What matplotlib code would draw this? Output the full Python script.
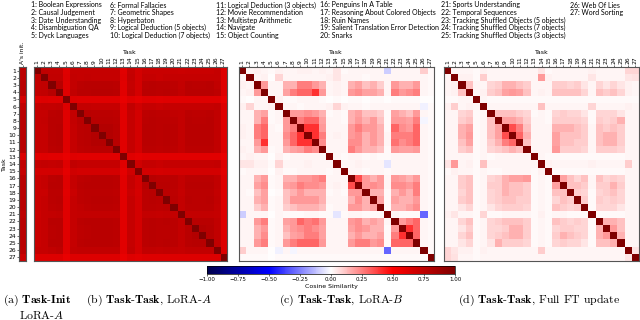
import numpy as np
import matplotlib
matplotlib.use('Agg')
import matplotlib.pyplot as plt

plt.rcParams['mathtext.fontset'] = 'cm'

tasks = ['Boolean Expressions', 'Causal Judgement', 'Date Understanding', 'Disambiguation QA',
         'Dyck Languages', 'Formal Fallacies', 'Geometric Shapes', 'Hyperbaton',
         'Logical Deduction (5 objects)', 'Logical Deduction (7 objects)',
         'Logical Deduction (3 objects)', 'Movie Recommendation', 'Multistep Arithmetic',
         'Navigate', 'Object Counting', 'Penguins In A Table',
         'Reasoning About Colored Objects', 'Ruin Names', 'Salient Translation Error Detection',
         'Snarks', 'Sports Understanding', 'Temporal Sequences',
         'Tracking Shuffled Objects (5 objects)', 'Tracking Shuffled Objects (7 objects)',
         'Tracking Shuffled Objects (3 objects)', 'Web Of Lies', 'Word Sorting']

# (a) similarity of each task's A to its init
init_sim = [0.76, 0.76, 0.77, 0.77, 0.66, 0.74, 0.77, 0.77, 0.77, 0.77, 0.77, 0.77, 0.64, 0.74,
            0.72, 0.77, 0.77, 0.77, 0.77, 0.77, 0.75, 0.77, 0.77, 0.77, 0.77, 0.76, 0.70]

# lower triangles (row i holds columns 1..i-1), diagonal is 1
lora_a = [
    [0.74],
    [0.73, 0.74],
    [0.73, 0.74, 0.78],
    [0.62, 0.63, 0.62, 0.62],
    [0.72, 0.73, 0.73, 0.74, 0.63],
    [0.72, 0.72, 0.76, 0.77, 0.62, 0.73],
    [0.72, 0.73, 0.77, 0.77, 0.62, 0.73, 0.77],
    [0.72, 0.72, 0.77, 0.78, 0.62, 0.72, 0.76, 0.77],
    [0.72, 0.72, 0.77, 0.78, 0.62, 0.72, 0.76, 0.77, 0.79],
    [0.72, 0.72, 0.77, 0.78, 0.62, 0.72, 0.76, 0.77, 0.79, 0.79],
    [0.72, 0.72, 0.76, 0.77, 0.62, 0.72, 0.75, 0.76, 0.77, 0.77, 0.77],
    [0.61, 0.62, 0.61, 0.61, 0.58, 0.62, 0.61, 0.61, 0.61, 0.61, 0.61, 0.61],
    [0.72, 0.73, 0.72, 0.73, 0.62, 0.74, 0.72, 0.72, 0.72, 0.72, 0.72, 0.72, 0.62],
    [0.67, 0.67, 0.67, 0.67, 0.60, 0.68, 0.67, 0.67, 0.67, 0.67, 0.67, 0.67, 0.60, 0.68],
    [0.71, 0.72, 0.76, 0.77, 0.62, 0.72, 0.75, 0.76, 0.77, 0.77, 0.77, 0.76, 0.61, 0.72, 0.67],
    [0.71, 0.72, 0.77, 0.77, 0.62, 0.72, 0.76, 0.77, 0.77, 0.77, 0.77, 0.76, 0.61, 0.72, 0.67, 0.78],
    [0.71, 0.71, 0.76, 0.76, 0.61, 0.71, 0.75, 0.76, 0.76, 0.76, 0.76, 0.75, 0.61, 0.71, 0.66, 0.76,
     0.77],
    [0.71, 0.72, 0.76, 0.77, 0.62, 0.72, 0.75, 0.76, 0.77, 0.77, 0.77, 0.76, 0.61, 0.72, 0.67, 0.76,
     0.77, 0.76],
    [0.71, 0.72, 0.75, 0.76, 0.62, 0.72, 0.74, 0.75, 0.76, 0.76, 0.76, 0.75, 0.61, 0.72, 0.67, 0.76,
     0.76, 0.75, 0.76],
    [0.70, 0.72, 0.73, 0.74, 0.62, 0.72, 0.73, 0.73, 0.73, 0.73, 0.73, 0.73, 0.61, 0.72, 0.67, 0.73,
     0.73, 0.72, 0.73, 0.73],
    [0.71, 0.72, 0.77, 0.77, 0.62, 0.72, 0.76, 0.77, 0.77, 0.77, 0.77, 0.76, 0.61, 0.72, 0.67, 0.76,
     0.77, 0.76, 0.77, 0.76, 0.73],
    [0.71, 0.72, 0.76, 0.77, 0.62, 0.72, 0.75, 0.76, 0.77, 0.77, 0.77, 0.76, 0.61, 0.72, 0.67, 0.76,
     0.77, 0.76, 0.76, 0.76, 0.73, 0.77],
    [0.71, 0.72, 0.76, 0.77, 0.62, 0.72, 0.75, 0.76, 0.77, 0.77, 0.77, 0.76, 0.61, 0.72, 0.67, 0.76,
     0.77, 0.76, 0.76, 0.76, 0.73, 0.77, 0.79],
    [0.71, 0.72, 0.77, 0.77, 0.62, 0.72, 0.76, 0.77, 0.77, 0.77, 0.77, 0.76, 0.61, 0.72, 0.67, 0.76,
     0.77, 0.76, 0.77, 0.76, 0.73, 0.77, 0.78, 0.78],
    [0.72, 0.72, 0.74, 0.75, 0.62, 0.73, 0.74, 0.74, 0.74, 0.74, 0.74, 0.74, 0.61, 0.73, 0.67, 0.74,
     0.74, 0.73, 0.74, 0.73, 0.72, 0.74, 0.74, 0.74, 0.74],
    [0.63, 0.63, 0.63, 0.63, 0.58, 0.63, 0.63, 0.63, 0.63, 0.63, 0.63, 0.63, 0.58, 0.63, 0.61, 0.63,
     0.63, 0.63, 0.63, 0.63, 0.63, 0.63, 0.63, 0.63, 0.63, 0.63],
]

lora_b = [
    [0.02],
    [0.03, 0.02],
    [0.02, 0.03, 0.20],
    [0.01, 0.00, 0.02, 0.02],
    [0.03, 0.08, 0.02, 0.02, 0.03],
    [0.02, 0.02, 0.15, 0.18, 0.01, 0.02],
    [0.02, 0.02, 0.15, 0.25, 0.01, 0.02, 0.20],
    [0.03, 0.02, 0.25, 0.30, 0.02, 0.01, 0.20, 0.25],
    [0.03, 0.02, 0.25, 0.30, 0.02, 0.02, 0.22, 0.30, 0.40],
    [0.02, 0.02, 0.20, 0.40, 0.02, 0.02, 0.20, 0.30, 0.40, 0.40],
    [0.03, 0.02, 0.15, 0.20, 0.01, 0.02, 0.15, 0.18, 0.20, 0.25, 0.22],
    [0.02, 0.03, 0.02, 0.02, 0.00, 0.03, 0.01, 0.02, 0.02, 0.02, 0.02, 0.02],
    [0.05, 0.05, 0.03, 0.03, 0.01, 0.08, 0.02, 0.02, 0.02, 0.03, 0.02, 0.02, 0.02],
    [0.01, 0.02, 0.02, 0.02, 0.00, 0.03, 0.01, 0.01, 0.02, 0.02, 0.02, 0.02, 0.01, 0.02],
    [0.02, 0.02, 0.15, 0.20, 0.01, 0.02, 0.15, 0.15, 0.20, 0.20, 0.22, 0.25, 0.02, 0.02, 0.02],
    [0.02, 0.02, 0.18, 0.22, 0.01, 0.02, 0.18, 0.20, 0.25, 0.22, 0.22, 0.20, 0.02, 0.03, 0.02, 0.35],
    [0.02, 0.01, 0.12, 0.18, 0.00, 0.01, 0.12, 0.15, 0.20, 0.15, 0.15, 0.15, 0.01, 0.02, 0.01, 0.20,
     0.20],
    [0.02, 0.02, 0.15, 0.18, 0.01, 0.02, 0.12, 0.20, 0.20, 0.20, 0.20, 0.15, 0.02, 0.02, 0.02, 0.15,
     0.22, 0.15],
    [0.02, 0.02, 0.10, 0.15, 0.01, 0.02, 0.10, 0.12, 0.15, 0.15, 0.15, 0.12, 0.01, 0.02, 0.02, 0.20,
     0.20, 0.15, 0.18],
    [-0.10, 0.02, 0.02, 0.02, 0.00, 0.02, 0.01, 0.01, 0.01, 0.02, 0.02, 0.01, 0.01, -0.05, 0.01, 0.02,
     0.02, 0.01, 0.01, 0.01],
    [0.02, 0.02, 0.20, 0.25, 0.01, 0.02, 0.18, 0.20, 0.30, 0.25, 0.28, 0.20, 0.02, 0.02, 0.02, 0.20,
     0.22, 0.15, 0.18, 0.15, 0.02],
    [0.02, 0.02, 0.15, 0.20, 0.01, 0.02, 0.15, 0.20, 0.22, 0.25, 0.22, 0.18, 0.02, 0.02, 0.02, 0.18,
     0.22, 0.20, 0.15, 0.15, 0.01, 0.20],
    [0.02, 0.02, 0.15, 0.22, 0.01, 0.02, 0.12, 0.18, 0.20, 0.25, 0.25, 0.18, 0.02, 0.02, 0.02, 0.15,
     0.20, 0.15, 0.15, 0.18, 0.01, 0.25, 0.40],
    [0.02, 0.02, 0.20, 0.25, 0.01, 0.02, 0.20, 0.25, 0.30, 0.30, 0.30, 0.20, 0.02, 0.02, 0.02, 0.20,
     0.25, 0.25, 0.20, 0.22, 0.01, 0.30, 0.30, 0.30],
    [0.10, 0.02, 0.02, 0.02, 0.00, -0.03, 0.02, -0.02, 0.02, 0.02, 0.02, 0.02, 0.02, 0.02, 0.02, 0.02,
     0.02, 0.02, 0.02, 0.02, -0.30, 0.02, 0.02, 0.02, 0.02],
    [0.01, 0.01, 0.01, 0.01, 0.00, 0.01, 0.01, 0.01, 0.01, 0.01, 0.01, 0.01, 0.01, 0.01, 0.01, 0.01,
     0.01, 0.01, 0.01, 0.01, 0.01, 0.01, 0.01, 0.01, 0.01, 0.01],
]

full_ft = [
    [0.02],
    [0.02, 0.03],
    [0.02, 0.03, 0.12],
    [0.01, 0.01, 0.02, 0.02],
    [0.03, 0.10, 0.02, 0.03, 0.02],
    [0.02, 0.02, 0.08, 0.10, 0.01, 0.02],
    [0.02, 0.02, 0.10, 0.12, 0.01, 0.02, 0.12],
    [0.02, 0.02, 0.15, 0.18, 0.01, 0.02, 0.12, 0.18],
    [0.02, 0.02, 0.15, 0.20, 0.01, 0.02, 0.12, 0.18, 0.35],
    [0.02, 0.02, 0.12, 0.18, 0.01, 0.02, 0.10, 0.15, 0.25, 0.30],
    [0.02, 0.02, 0.10, 0.12, 0.01, 0.02, 0.08, 0.10, 0.12, 0.15, 0.12],
    [0.02, 0.02, 0.02, 0.02, 0.01, 0.02, 0.01, 0.02, 0.02, 0.02, 0.02, 0.02],
    [0.05, 0.20, 0.02, 0.03, 0.01, 0.12, 0.02, 0.02, 0.02, 0.02, 0.02, 0.02, 0.02],
    [0.01, 0.03, 0.02, 0.02, 0.01, 0.02, 0.01, 0.01, 0.02, 0.02, 0.02, 0.02, 0.01, 0.03],
    [0.02, 0.02, 0.10, 0.12, 0.01, 0.02, 0.08, 0.10, 0.15, 0.18, 0.18, 0.20, 0.01, 0.02, 0.01],
    [0.02, 0.02, 0.10, 0.12, 0.01, 0.02, 0.10, 0.10, 0.15, 0.12, 0.12, 0.10, 0.01, 0.02, 0.01, 0.18],
    [0.02, 0.02, 0.08, 0.12, 0.01, 0.02, 0.08, 0.10, 0.15, 0.12, 0.12, 0.10, 0.01, 0.02, 0.01, 0.12,
     0.12],
    [0.02, 0.02, 0.10, 0.12, 0.01, 0.02, 0.08, 0.10, 0.12, 0.12, 0.10, 0.10, 0.01, 0.02, 0.01, 0.08,
     0.12, 0.10],
    [0.02, 0.02, 0.05, 0.08, 0.01, 0.02, 0.05, 0.08, 0.10, 0.10, 0.10, 0.08, 0.01, 0.02, 0.01, 0.12,
     0.10, 0.08, 0.10],
    [0.03, 0.05, 0.02, 0.02, 0.01, 0.08, 0.01, 0.01, 0.02, 0.02, 0.02, 0.02, 0.01, 0.03, 0.01, 0.02,
     0.02, 0.01, 0.01, 0.01],
    [0.02, 0.02, 0.08, 0.12, 0.01, 0.02, 0.08, 0.10, 0.12, 0.12, 0.12, 0.10, 0.01, 0.02, 0.01, 0.12,
     0.10, 0.08, 0.10, 0.08, 0.01],
    [0.02, 0.02, 0.05, 0.10, 0.01, 0.02, 0.08, 0.08, 0.10, 0.15, 0.15, 0.10, 0.01, 0.02, 0.01, 0.08,
     0.10, 0.10, 0.08, 0.08, 0.01, 0.15],
    [0.02, 0.02, 0.08, 0.12, 0.01, 0.02, 0.08, 0.10, 0.12, 0.15, 0.15, 0.10, 0.01, 0.02, 0.01, 0.10,
     0.15, 0.12, 0.10, 0.08, 0.01, 0.15, 0.20],
    [0.02, 0.02, 0.05, 0.08, 0.01, 0.02, 0.05, 0.15, 0.10, 0.10, 0.10, 0.08, 0.01, 0.02, 0.01, 0.08,
     0.10, 0.08, 0.08, 0.05, 0.01, 0.12, 0.12, 0.15],
    [0.08, 0.05, 0.03, 0.03, 0.01, 0.03, 0.02, 0.02, 0.02, 0.02, 0.02, 0.02, 0.02, 0.10, 0.02, 0.02,
     0.02, 0.02, 0.02, 0.02, 0.02, 0.02, 0.02, 0.02, 0.02],
    [0.08, 0.06, 0.02, 0.02, 0.01, 0.02, 0.02, 0.02, 0.02, 0.02, 0.02, 0.02, 0.02, 0.02, 0.02, 0.02,
     0.02, 0.02, 0.02, 0.02, 0.02, 0.02, 0.02, 0.02, 0.02, 0.05],
]

cbar_ticks = [-1.0, -0.75, -0.5, -0.25, 0.0, 0.25, 0.5, 0.75, 1.0]


def to_matrix(tri):
    n = len(tri) + 1
    m = np.eye(n)
    for i, row in enumerate(tri):
        m[i + 1, :len(row)] = row
        m[:len(row), i + 1] = row
    return m


W, H = 640, 320


def px(x, y, w, h):
    return [x / W, (H - y - h) / H, w / W, h / H]


fig = plt.figure(figsize=(6.4, 3.2), dpi=100)
n = len(tasks)
kw = dict(cmap='seismic', vmin=-1, vmax=1, aspect='auto', interpolation='nearest')
frame = '#555555'

# task legend at the top
col_x = [31, 110, 216, 320, 441, 570]
for i, name in enumerate(tasks):
    c, r = divmod(i, 5)
    fig.text(col_x[c] / W, 1 - (5 + r * 7.6) / H, f'{i + 1}: {name}',
             fontsize=5.0, family='Lato', va='center', ha='left')

# (a) init column
ax0 = fig.add_axes(px(19, 67, 7, 194))
ax0.imshow(np.array(init_sim)[:, None], **kw)
ax0.xaxis.tick_top()
ax0.set_xticks([0])
ax0.set_xticklabels(["A's init."], rotation=90, fontsize=4.3)
ax0.set_yticks(range(n))
ax0.set_yticklabels([str(i + 1) for i in range(n)], fontsize=4.3)
ax0.set_ylabel('Task', fontsize=4.5, labelpad=1)

mats = [to_matrix(lora_a), to_matrix(lora_b), to_matrix(full_ft)]
boxes = [(33.5, 67, 193.5, 194), (238.5, 67, 195.5, 194), (444, 67, 195, 194)]
im = None
for m, b in zip(mats, boxes):
    ax = fig.add_axes(px(*b))
    im = ax.imshow(m, **kw)
    ax.xaxis.tick_top()
    ax.xaxis.set_label_position('top')
    ax.set_xticks(range(n))
    ax.set_xticklabels([str(i + 1) for i in range(n)], rotation=90, fontsize=4.3)
    ax.set_yticks([])
    ax.set_xlabel('Task', fontsize=4.5, labelpad=1.5)
    ax.tick_params(length=1.2, width=0.4, pad=0.8)
    for s in ax.spines.values():
        s.set_color(frame)
        s.set_linewidth(0.8)

ax0.tick_params(length=1.2, width=0.4, pad=0.8)
for s in ax0.spines.values():
    s.set_color(frame)
    s.set_linewidth(0.8)

cax = fig.add_axes(px(207, 266, 248, 8))
cb = fig.colorbar(im, cax=cax, orientation='horizontal', ticks=cbar_ticks)
cb.ax.tick_params(labelsize=4, length=1.5, width=0.4, pad=1)
cb.set_label('Cosine Similarity', fontsize=4.5, labelpad=1)
cb.outline.set_linewidth(0.5)

# captions
cap = dict(fontsize=8.5, family='cmr10', va='center', ha='left')
fig.text(3 / W, 1 - 300 / H, r'(a) $\mathbf{Task}$-$\mathbf{Init}$', **cap)
fig.text(19 / W, 1 - 315 / H, r'LoRA-$A$', **cap)
fig.text(86 / W, 1 - 300 / H, r'(b) $\mathbf{Task}$-$\mathbf{Task}$, LoRA-$A$', **cap)
fig.text(279 / W, 1 - 300 / H, r'(c) $\mathbf{Task}$-$\mathbf{Task}$, LoRA-$B$', **cap)
fig.text(458 / W, 1 - 300 / H, r'(d) $\mathbf{Task}$-$\mathbf{Task}$, Full FT update', **cap)

fig.savefig('out.png', dpi=100)
